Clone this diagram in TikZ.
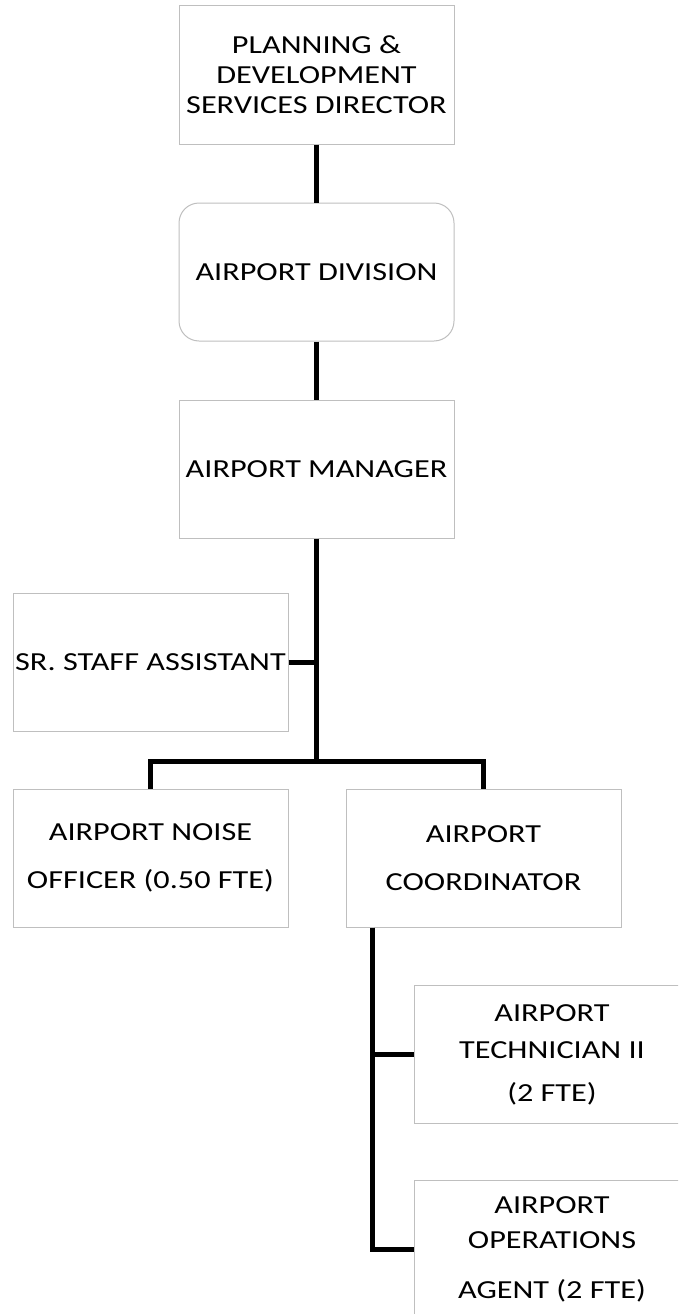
\documentclass[tikz,border=0pt]{standalone}
\usepackage{fontspec}
\setmainfont{Carlito}[FakeStretch=1.24]
\usetikzlibrary{positioning}

\begin{document}
\begin{tikzpicture}[
    x=1pt, y=1pt,
    font=\fontsize{26}{30}\selectfont,
    node distance=58pt and 57pt,
    % Define styles
    post/.style={rectangle, draw=black!25, line width=1pt, fill=white, minimum width=275pt, minimum height=138pt, align=center, inner sep=0pt},
    unit/.style={post, rounded corners=20pt},
    link/.style={line width=4.5pt}
]

% Page frame (boxes on the right are cut off)
\clip (0,0) rectangle (678,-1314);

% 1. Top of the chain
\node[post] (director) at (316.5,-75) {PLANNING \&\\DEVELOPMENT\\SERVICES DIRECTOR};
\node[unit, below=of director] (division) {AIRPORT DIVISION};
\node[post, below=of division] (manager) {AIRPORT MANAGER};

% 2. Staff and second level
\node[post] (assistant) at (150.5,-662.5) {SR. STAFF ASSISTANT};
\node[post] (noise) at (150.5,-858) {AIRPORT NOISE\\[18pt]OFFICER (0.50 FTE)};
\node[post, right=of noise] (coordinator) {AIRPORT\\[18pt]COORDINATOR};

% 3. Under the coordinator
\node[post, anchor=north west] (technician) at (414,-985) {AIRPORT\\[7pt]TECHNICIAN II\\[13pt](2 FTE)};
\node[post, anchor=north west] (operations) at (414,-1180) {AIRPORT\\[5pt]OPERATIONS\\[20pt]AGENT (2 FTE)};

% Connections
\coordinate[below=223pt of manager.south] (fork);
\coordinate[right=27pt of coordinator.south west] (drop);

\draw[link] (director) -- (division);
\draw[link] (division) -- (manager);
\draw[link] (manager) -- (fork);
\draw[link] (assistant) -- (assistant -| fork);
\draw[link] (noise.north) |- (fork) -| (coordinator.north);
\draw[link] (drop) |- (technician.west);
\draw[link] (drop) |- (operations.west);

\end{tikzpicture}
\end{document}
